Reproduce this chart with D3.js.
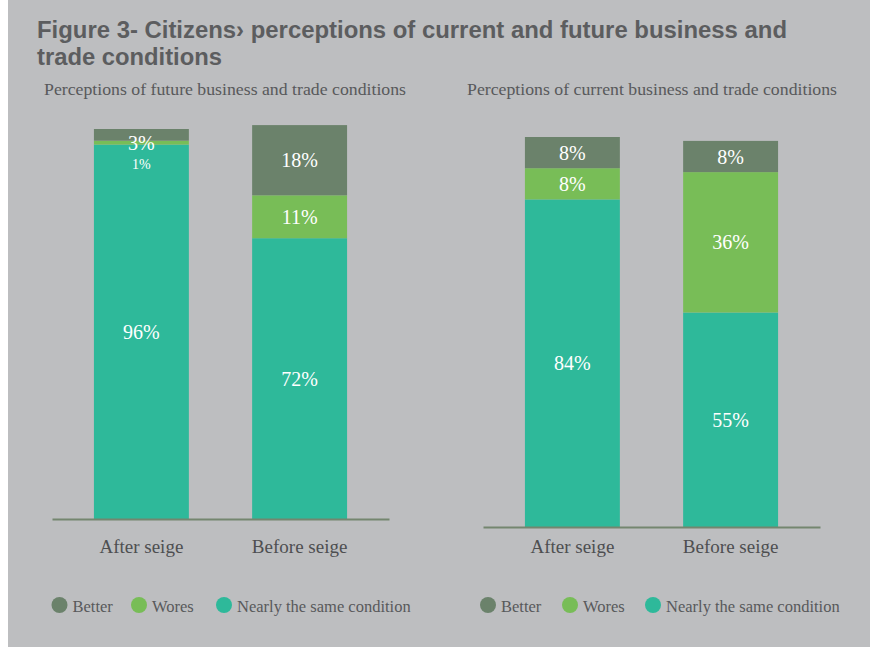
<!DOCTYPE html>
<html>
<head>
<meta charset="utf-8">
<script src="https://cdn.jsdelivr.net/npm/d3@7"></script>
<style>
  html, body { margin: 0; padding: 0; background: #ffffff; }
  svg { display: block; }
</style>
</head>
<body>
<svg id="chart" width="870" height="647"></svg>
<script>
// Survey shares (%) by period, one array per answer
const categories = ["After seige", "Before seige"];
const legendLabels = ["Better", "Wores", "Nearly the same condition"];

const futureBetter = [3, 18];
const futureWorse = [1, 11];
const futureSame = [96, 72];

const currentBetter = [8, 8];
const currentWorse = [8, 36];
const currentSame = [84, 55];

const titleLines = [
  "Figure 3- Citizens\u203A perceptions of current and future business and",
  "trade conditions"
];
const panelTitles = [
  "Perceptions of future business and trade conditions",
  "Perceptions of current business and trade conditions"
];

const keys = ["same", "worse", "better"];           // stacking order, bottom to top
const colors = { better: "#6b826b", worse: "#78bd57", same: "#2eb99a" };
const legendKeys = ["better", "worse", "same"];

const serif = "'Liberation Serif', 'DejaVu Serif', serif";
const sans = "'Liberation Sans', Arial, sans-serif";

const svg = d3.select("#chart");

// grey card
svg.append("rect")
  .attr("x", 8).attr("y", 0)
  .attr("width", 862).attr("height", 647)
  .attr("fill", "#bdbec0");

// heading
svg.append("g").selectAll("text")
  .data(titleLines)
  .join("text")
  .attr("x", 37)
  .attr("y", (d, i) => 38 + i * 27)
  .attr("font-family", sans)
  .attr("font-weight", "bold")
  .attr("font-size", 23)
  .attr("fill", "#5c5d5f")
  .attr("textLength", (d, i) => i === 0 ? 750 : 185)
  .attr("lengthAdjust", "spacingAndGlyphs")
  .text(d => d);

const panels = [
  {
    title: panelTitles[0], better: futureBetter, worse: futureWorse, same: futureSame,
    x0: 52, x1: 389, base: 519, titleX: 44, titleW: 362, legendX: [59.5, 139, 224]
  },
  {
    title: panelTitles[1], better: currentBetter, worse: currentWorse, same: currentSame,
    x0: 483, x1: 820, base: 527, titleX: 467, titleW: 370, legendX: [488, 570, 653]
  }
];

const barSpan = 390;       // pixels for 100%
const tickBaseline = 553;  // baseline of category labels
const tickFont = 19;

panels.forEach(p => {
  const g = svg.append("g");

  g.append("text")
    .attr("x", p.titleX).attr("y", 95)
    .attr("font-family", serif)
    .attr("font-size", 17.5)
    .attr("fill", "#58595b")
    .attr("textLength", p.titleW)
    .attr("lengthAdjust", "spacingAndGlyphs")
    .text(p.title);

  const rows = categories.map((c, i) => ({
    cat: c, same: p.same[i], worse: p.worse[i], better: p.better[i]
  }));
  const series = d3.stack().keys(keys)(rows);

  const x = d3.scaleBand()
    .domain(categories)
    .range([p.x0, p.x1])
    .paddingInner(0.4)
    .paddingOuter(0.265);
  const y = d3.scaleLinear()
    .domain([0, 100])
    .range([p.base, p.base - barSpan]);

  // stacked bars
  g.append("g").selectAll("g")
    .data(series)
    .join("g")
    .attr("fill", s => colors[s.key])
    .selectAll("rect")
    .data(s => s)
    .join("rect")
    .attr("x", d => x(d.data.cat))
    .attr("y", d => y(d[1]))
    .attr("width", x.bandwidth())
    .attr("height", d => y(d[0]) - y(d[1]));

  // value labels, top segment first, pushed apart when segments are thin
  const labelLayer = g.append("g")
    .attr("font-family", serif)
    .attr("fill", "#ffffff")
    .attr("text-anchor", "middle");

  categories.forEach((cat, i) => {
    const segs = keys.slice().reverse().map(k => {
      const s = series.find(v => v.key === k)[i];
      const value = s.data[k];
      return {
        value,
        mid: (y(s[0]) + y(s[1])) / 2,
        top: y(s[1]),
        size: value < 2 ? 14 : 20
      };
    });
    let prevY = null, prevSize = 0;
    segs.forEach((s, j) => {
      let cy = s.mid;
      if (j === 0) cy = Math.max(cy, s.top + 14);
      else cy = Math.max(cy, prevY + (prevSize + s.size) / 2 + 4);
      prevY = cy; prevSize = s.size;
      labelLayer.append("text")
        .attr("x", x(cat) + x.bandwidth() / 2)
        .attr("y", cy)
        .attr("dy", "0.35em")
        .attr("font-size", s.size)
        .text(s.value + "%");
    });
  });

  // baseline and category labels
  const axis = g.append("g")
    .attr("transform", `translate(0,${p.base})`)
    .call(d3.axisBottom(x)
      .tickSize(0)
      .tickSizeOuter(0)
      .tickPadding(tickBaseline - p.base - 0.71 * tickFont));
  axis.attr("font-family", serif).attr("font-size", tickFont);
  axis.select(".domain")
    .attr("stroke", "#74866f")
    .attr("stroke-width", 2);
  axis.selectAll(".tick text").attr("fill", "#4e4f51");

  // legend
  const leg = g.append("g").selectAll("g")
    .data(legendKeys)
    .join("g")
    .attr("transform", (d, i) => `translate(${p.legendX[i]},605)`);
  leg.append("circle")
    .attr("r", 8)
    .attr("fill", d => colors[d]);
  leg.append("text")
    .attr("x", 13)
    .attr("y", 7)
    .attr("font-family", serif)
    .attr("font-size", 16.5)
    .attr("fill", "#58595b")
    .text((d, i) => legendLabels[i]);
});
</script>
</body>
</html>
